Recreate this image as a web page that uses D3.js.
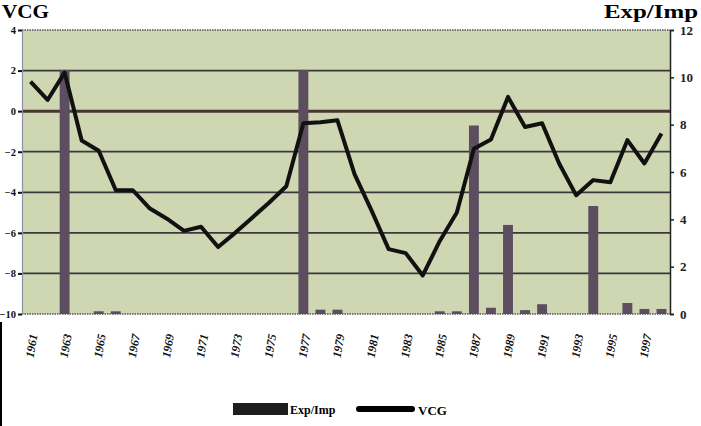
<!DOCTYPE html>
<html><head><meta charset="utf-8">
<script src="https://cdn.jsdelivr.net/npm/d3@7"></script>
<style>body{margin:0;background:#fff}svg{display:block}</style>
</head><body>
<svg id="c" width="701" height="426"></svg>
<script>
const years = [1961,1962,1963,1964,1965,1966,1967,1968,1969,1970,1971,1972,1973,1974,1975,1976,1977,1978,1979,1980,1981,1982,1983,1984,1985,1986,1987,1988,1989,1990,1991,1992,1993,1994,1995,1996,1997,1998];
const vcg = [1.45,0.55,1.9,-1.45,-1.95,-3.9,-3.9,-4.8,-5.3,-5.9,-5.7,-6.7,-6.0,-5.25,-4.5,-3.7,-0.6,-0.55,-0.45,-3.1,-4.9,-6.8,-7.0,-8.1,-6.4,-5.0,-1.85,-1.4,0.7,-0.78,-0.6,-2.58,-4.15,-3.4,-3.5,-1.43,-2.58,-1.1];
const expImp = [0,0,10.25,0,0.05,0.05,0,0,0,0,0,0,0,0,0,0,10.25,0.12,0.12,0,0,0,0,0,0.05,0.05,7.9,0.2,3.7,0.1,0.35,0,0,4.5,0,0.4,0.15,0.15];
const leftTicks = [-10,-8,-6,-4,-2,0,2,4];
const rightTicks = [0,2,4,6,8,10,12];
const yearLabels = [1961,1963,1965,1967,1969,1971,1973,1975,1977,1979,1981,1983,1985,1987,1989,1991,1993,1995,1997];

const svg = d3.select("#c");
const L = 22, R = 670, T = 30, B = 314;
const x = d3.scaleBand().domain(years).range([L, R]).paddingInner(0.42).paddingOuter(0.21);
const yL = d3.scaleLinear().domain([-10, 4]).range([B, T]);
const yR = d3.scaleLinear().domain([0, 12]).range([B, T]);
const cx = d => x(d) + x.bandwidth() / 2;

// plot background
svg.append("rect").attr("x", L).attr("y", T).attr("width", R - L).attr("height", B - T).attr("fill", "#ced6b2");

// gridlines
svg.append("g").selectAll("line").data(leftTicks.filter(t => t > -10 && t < 4)).join("line")
  .attr("x1", L).attr("x2", R).attr("y1", d => yL(d)).attr("y2", d => yL(d))
  .attr("stroke", d => d === 0 ? "#4a3530" : "#39383c")
  .attr("stroke-width", d => d === 0 ? 3 : 1.7);

// border
svg.append("line").attr("x1", L).attr("x2", R).attr("y1", T).attr("y2", T).attr("stroke", "#555").attr("stroke-width", 1.5).attr("stroke-dasharray", "1.5,1");
svg.append("line").attr("x1", L).attr("x2", R).attr("y1", B).attr("y2", B).attr("stroke", "#555").attr("stroke-width", 1.5).attr("stroke-dasharray", "1.5,1");

// bars
svg.append("g").selectAll("rect").data(years).join("rect")
  .attr("x", d => x(d)).attr("width", x.bandwidth())
  .attr("y", (d, i) => yR(expImp[i]) - (expImp[i] > 0 ? 1.5 : 0))
  .attr("height", (d, i) => expImp[i] > 0 ? B - yR(expImp[i]) + 1.5 : 0)
  .attr("fill", "#5c4e5e");

// line
const line = d3.line().x((d, i) => cx(years[i])).y(d => yL(d));
svg.append("path").datum(vcg).attr("d", line).attr("fill", "none")
  .attr("stroke", "#111").attr("stroke-width", 4).attr("stroke-linejoin", "round");

// left axis
const axL = svg.append("g").attr("transform", `translate(${L},0)`)
  .call(d3.axisLeft(yL).tickValues(leftTicks).tickSize(4).tickPadding(2).tickFormat(d3.format("d")));
axL.select(".domain").attr("stroke", "#8a94a0").attr("stroke-width", 1.2);
axL.selectAll(".tick line").attr("stroke", "#111").attr("stroke-width", 2);
axL.selectAll("text").attr("font-family", "Liberation Serif").attr("font-weight", "bold").attr("font-size", 10.5).attr("fill", "#111");

// right axis
const axR = svg.append("g").attr("transform", `translate(${R},0)`)
  .call(d3.axisRight(yR).tickValues(rightTicks).tickSize(4).tickPadding(6).tickFormat(d3.format("d")));
axR.select(".domain").attr("stroke", "#222").attr("stroke-width", 1.5);
axR.selectAll(".tick line").attr("stroke", "#222").attr("stroke-width", 1.5);
axR.selectAll("text").attr("font-family", "Liberation Serif").attr("font-weight", "bold").attr("font-size", 13).attr("fill", "#222");

// x axis labels
const axX = svg.append("g").attr("transform", `translate(0,${B + 26})`)
  .call(d3.axisBottom(x).tickValues(yearLabels).tickSize(0).tickPadding(0).tickFormat(d3.format("d")));
axX.select(".domain").remove();
axX.selectAll("text").attr("font-family", "Liberation Serif").attr("font-weight", "bold").attr("font-style", "italic")
  .attr("font-size", 12).attr("fill", "#111").attr("text-anchor", "end").attr("y", 0).attr("dy", "0.35em")
  .attr("transform", "translate(3,-6) rotate(-80)");

// titles
svg.append("text").attr("x", 2).attr("y", 18).text("VCG").attr("font-family", "Liberation Serif")
  .attr("font-weight", "bold").attr("font-size", 19).attr("textLength", 47).attr("lengthAdjust", "spacingAndGlyphs").attr("fill", "#000");
svg.append("text").attr("x", 604).attr("y", 18).text("Exp/Imp").attr("font-family", "Liberation Serif")
  .attr("font-weight", "bold").attr("font-size", 19).attr("textLength", 94).attr("lengthAdjust", "spacingAndGlyphs").attr("fill", "#000");

// legend
const lg = svg.append("g");
lg.append("rect").attr("x", 233).attr("y", 403).attr("width", 55).attr("height", 12).attr("fill", "#1e1e1e");
lg.append("text").attr("x", 290).attr("y", 414).text("Exp/Imp").attr("font-family", "Liberation Serif")
  .attr("font-weight", "bold").attr("font-size", 12).attr("fill", "#000");
lg.append("line").attr("x1", 359).attr("x2", 412).attr("y1", 409).attr("y2", 409).attr("stroke", "#000").attr("stroke-width", 6).attr("stroke-linecap", "round");
lg.append("text").attr("x", 418).attr("y", 415).text("VCG").attr("font-family", "Liberation Serif")
  .attr("font-weight", "bold").attr("font-size", 13).attr("fill", "#000");

// scan edge
svg.append("rect").attr("x", 0).attr("y", 322).attr("width", 2).attr("height", 104).attr("fill", "#000");
</script>
</body></html>
